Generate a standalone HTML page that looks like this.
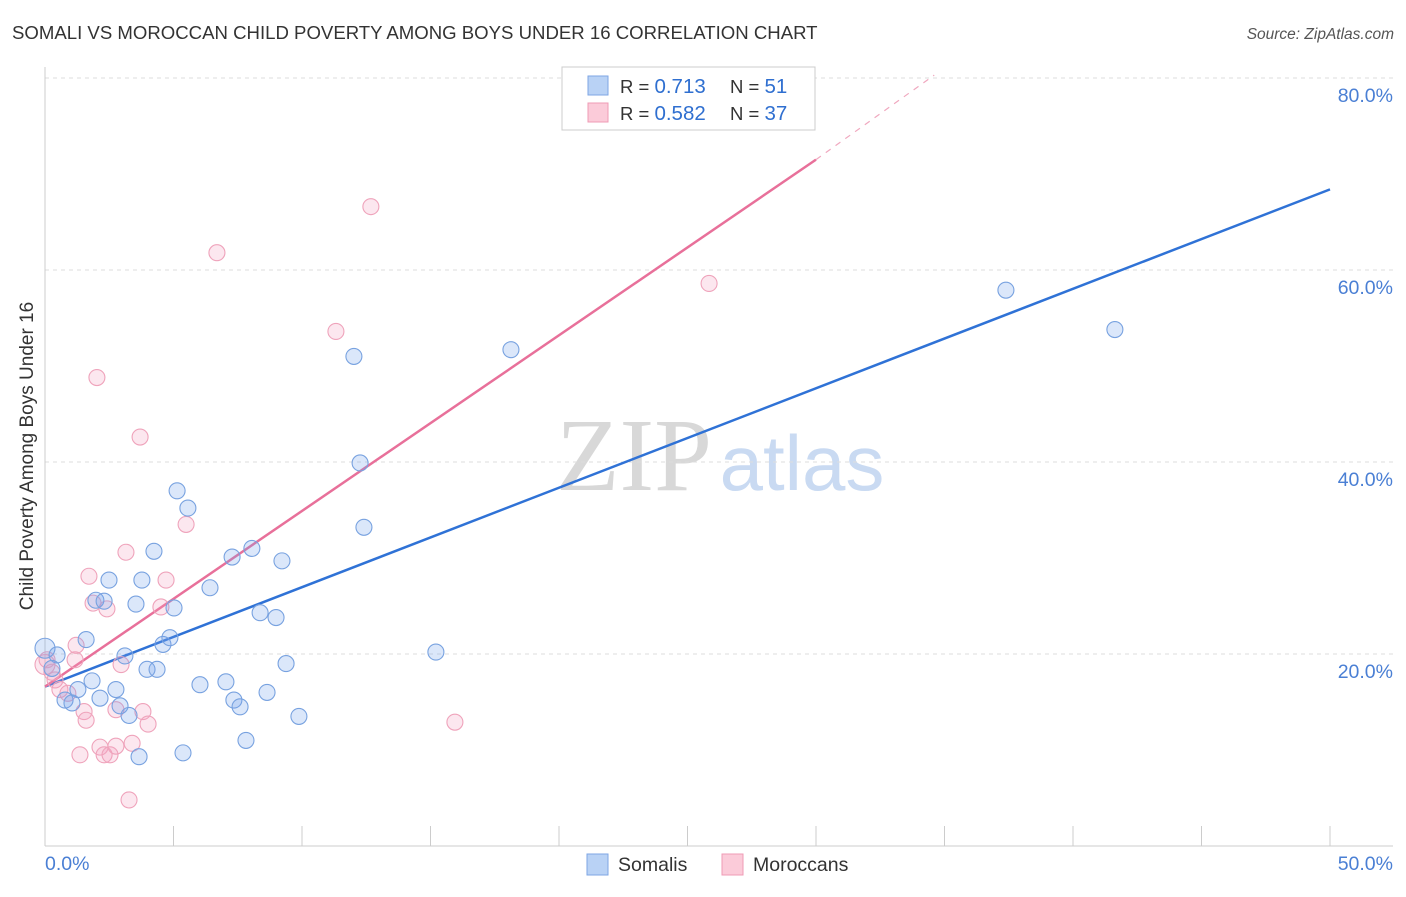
<!DOCTYPE html>
<html><head><meta charset="utf-8"><style>
body{margin:0;background:#fff;font-family:"Liberation Sans",sans-serif;}
svg text{font-family:"Liberation Sans",sans-serif;}
</style></head><body>
<svg id="chart" width="1406" height="892" xmlns="http://www.w3.org/2000/svg">
<text x="12" y="39" font-size="18.6" fill="#333">SOMALI VS MOROCCAN CHILD POVERTY AMONG BOYS UNDER 16 CORRELATION CHART</text>
<text x="1394" y="39" font-size="15.5" fill="#555" text-anchor="end" font-style="italic">Source: ZipAtlas.com</text>
<g>
<text x="634" y="490" font-size="104" fill="#d8d8d8" text-anchor="middle" style="font-family:'Liberation Serif',serif">ZIP</text>
<text x="802" y="490" font-size="78" fill="#c9daf2" text-anchor="middle">atlas</text>
</g>
<g id="grid"></g>
<g id="axes"></g>
<g id="lines"></g>
<g id="points"></g>
<text transform="translate(33,456) rotate(-90)" font-size="19" fill="#333" text-anchor="middle">Child Poverty Among Boys Under 16</text>
<text x="45" y="870" font-size="19.5" fill="#4a7fd4">0.0%</text>
<text x="1393" y="870" font-size="19.5" fill="#4a7fd4" text-anchor="end">50.0%</text>
<g>
<rect x="562" y="67" width="253" height="63" fill="#fff" stroke="#ccc"/>
<rect x="588" y="76" width="20" height="19" fill="#b9d2f5" stroke="#7ea6e4"/>
<rect x="588" y="103" width="20" height="19" fill="#fbcbd9" stroke="#ef9bb5"/>
<text x="620" y="93" font-size="18.5" fill="#333">R = <tspan fill="#2f6fd0" font-size="20.5">0.713</tspan></text>
<text x="730" y="93" font-size="18.5" fill="#333">N = <tspan fill="#2f6fd0" font-size="20.5">51</tspan></text>
<text x="620" y="120" font-size="18.5" fill="#333">R = <tspan fill="#2f6fd0" font-size="20.5">0.582</tspan></text>
<text x="730" y="120" font-size="18.5" fill="#333">N = <tspan fill="#2f6fd0" font-size="20.5">37</tspan></text>
</g>
<g>
<rect x="587" y="854" width="21" height="21" fill="#b9d2f5" stroke="#7ea6e4"/>
<text x="618" y="871" font-size="19.5" fill="#333">Somalis</text>
<rect x="722" y="854" width="21" height="21" fill="#fbcbd9" stroke="#ef9bb5"/>
<text x="753" y="871" font-size="19.5" fill="#333">Moroccans</text>
</g>
</svg>
<script>
const yTicks=[20,40,60,80];
const yTickLabels=["20.0%","40.0%","60.0%","80.0%"];
const xTicks=[0,5,10,15,20,25,30,35,40,45,50];
const somaliX=[0,0.47,0.27,1.6,1.83,1.28,0.78,1.05,2.14,1.98,2.3,2.49,2.76,2.92,3.11,3.27,3.54,3.77,3.97,4.36,4.24,4.59,4.86,5.02,5.14,5.56,5.37,3.66,6.03,6.42,7.04,7.28,7.35,7.59,7.82,8.05,8.37,8.64,8.99,9.22,9.38,9.88,12.02,12.26,12.41,15.21,18.13,37.39,41.63];
const somaliY=[20.6,19.9,18.5,21.5,17.2,16.3,15.2,14.9,15.4,25.6,25.5,27.7,16.3,14.6,19.8,13.6,25.2,27.7,18.4,18.4,30.7,21.0,21.7,24.8,37.0,35.2,9.7,9.3,16.8,26.9,17.1,30.1,15.2,14.5,11.0,31.0,24.3,16.0,23.8,29.7,19.0,13.5,51.0,39.9,33.2,20.2,51.7,57.9,53.8];
const moroccanX=[0,0.08,0.27,0.39,0.58,0.89,1.17,1.21,1.71,2.02,1.87,2.41,1.52,1.6,1.36,2.14,2.3,2.53,2.76,2.76,2.96,3.15,3.39,3.27,3.7,3.81,4.01,4.51,4.71,5.49,6.69,11.32,12.68,15.95,25.84];
const moroccanY=[18.9,19.4,18.1,17.3,16.3,15.9,19.4,20.9,28.1,48.8,25.3,24.7,14.0,13.1,9.5,10.3,9.5,9.5,14.2,10.4,18.9,30.6,10.7,4.8,42.6,14.0,12.7,24.9,27.7,33.5,61.8,53.6,66.6,12.9,58.6];
const somaliTrend=[[0,16.6],[50,68.4]];
const moroccanTrend=[[0,16.6],[30,71.5]];
const moroccanTrendExt=[[30,71.5],[34.6,80.3]];
const NS="http://www.w3.org/2000/svg";
const X=v=>45+v*25.7, Y=v=>846-v*9.6;
function mk(tag,attrs,parent){const e=document.createElementNS(NS,tag);for(const k in attrs)e.setAttribute(k,attrs[k]);document.getElementById(parent).appendChild(e);return e;}
yTicks.forEach((t,i)=>{
 const g=mk('line',{x1:45,x2:1393,y1:Y(t),y2:Y(t),stroke:'#ddd','stroke-dasharray':'4,4'},'grid');
 
 
 const tx=mk('text',{x:1393,y:Y(t)+24,'font-size':19.5,fill:'#4a7fd4','text-anchor':'end'},'grid');
 tx.textContent=yTickLabels[i];
 
 
});
const ax=mk('line',{x1:45,x2:45,y1:67,y2:846,stroke:'#ccc'},'axes');


const bx=mk('line',{x1:45,x2:1393,y1:846,y2:846,stroke:'#ccc'},'axes');


xTicks.forEach(t=>{
 const l=mk('line',{x1:X(t),x2:X(t),y1:826,y2:846,stroke:'#ccc'},'axes');
 
 
});
function pts(xs,ys,fill,stroke,name){xs.forEach((x,i)=>{
 const c=mk('circle',{cx:X(x),cy:Y(ys[i]),r:(x===0?10:8),fill:fill,stroke:stroke,'stroke-width':1.1},'points');
 
 
});}
pts(moroccanX,moroccanY,'rgba(245,160,190,0.25)','#efa3bb','moroccan-point');
pts(somaliX,somaliY,'rgba(110,160,235,0.25)','#78a2e0','somali-point');
function ln(p,stroke,w,dash,name){
 const l=mk('line',{x1:X(p[0][0]),y1:Y(p[0][1]),x2:X(p[1][0]),y2:Y(p[1][1]),stroke:stroke,'stroke-width':w},'lines');
 if(dash)l.setAttribute('stroke-dasharray',dash);
 
 
}
ln(somaliTrend,'#2f72d6',2.5,null,'somali-trendline');
ln(moroccanTrend,'#e8709a',2.5,null,'moroccan-trendline');
ln(moroccanTrendExt,'#f0a8bf',1.2,'6,6','moroccan-trendline-extension');
</script>
</body></html>
